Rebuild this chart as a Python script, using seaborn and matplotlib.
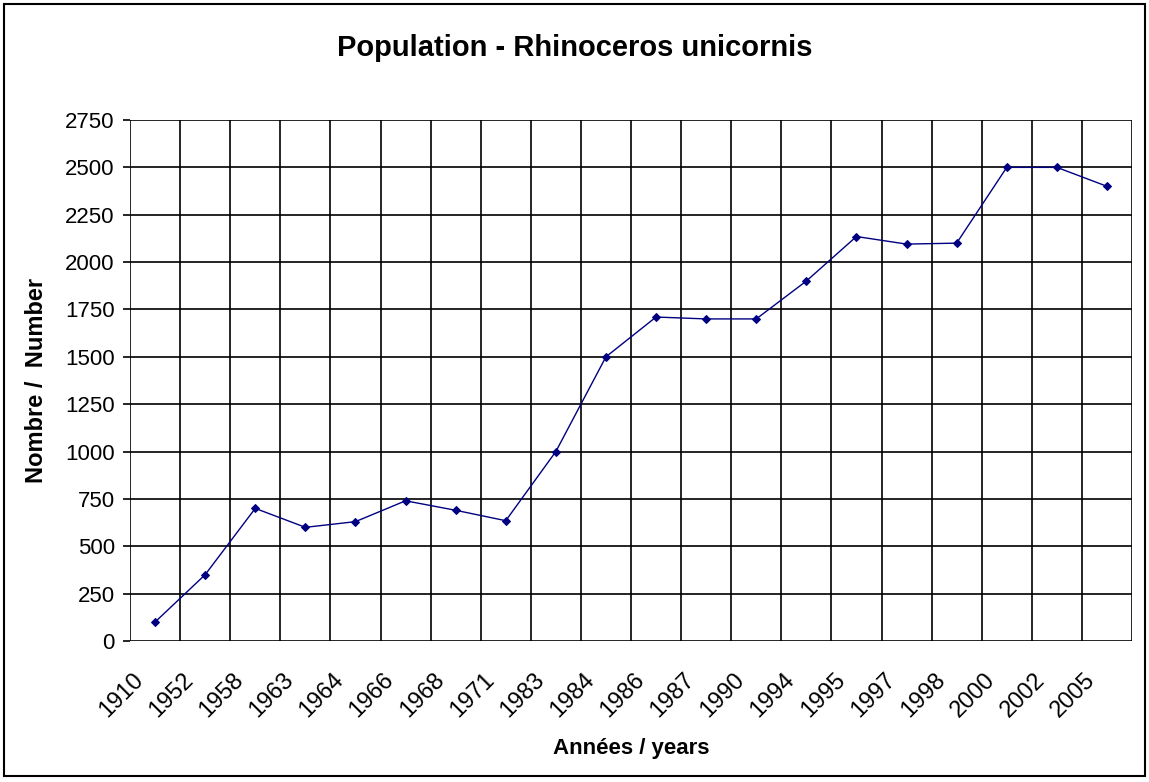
import matplotlib
matplotlib.use("Agg")
import matplotlib.pyplot as plt
import matplotlib.transforms as mtransforms
from matplotlib.patches import Rectangle
import seaborn as sns
import pandas as pd
import numpy as np

# data
years = ["1910", "1952", "1958", "1963", "1964", "1966", "1968", "1971", "1983", "1984",
         "1986", "1987", "1990", "1994", "1995", "1997", "1998", "2000", "2002", "2005"]
population = [100, 350, 700, 600, 630, 740, 690, 635, 1000, 1500,
              1710, 1700, 1700, 1900, 2135, 2095, 2100, 2500, 2500, 2400]
y_ticks = [0, 250, 500, 750, 1000, 1250, 1500, 1750, 2000, 2250, 2500, 2750]

df = pd.DataFrame({"year": years, "population": population})

sns.set_style("white")
plt.rcParams["font.family"] = ["Liberation Sans", "DejaVu Sans"]
for key in ["text.color", "axes.labelcolor", "xtick.color", "ytick.color"]:
    plt.rcParams[key] = "black"

fig = plt.figure(figsize=(11.49, 7.82), dpi=100)
ax = fig.add_axes([130 / 1149, 1 - 641 / 782, 1002 / 1149, 521 / 782])

sns.lineplot(data=df, x="year", y="population", ax=ax, color="#000080",
             linewidth=1, marker="D", markersize=4.5, markeredgecolor="#000080",
             sort=False, zorder=5)

n = len(years)
ax.set_xlim(-0.5, n - 0.5)
ax.set_ylim(0, 2750)
ax.set_yticks(y_ticks)
ax.set_xticks(range(n))
ax.set_xticklabels(years)
ax.set_xticks(np.arange(n + 1) - 0.5, minor=True)

ax.grid(False)
for v in y_ticks:
    ax.axhline(v, color="black", linewidth=1.2, zorder=1)
for b in np.arange(n + 1) - 0.5:
    ax.axvline(b, color="black", linewidth=1.2, zorder=1)

for s in ax.spines.values():
    s.set_visible(False)

ax.tick_params(axis="x", which="major", length=0, pad=20, labelsize=17)
ax.tick_params(axis="x", which="minor", length=5, width=1.2, color="black", direction="out")
ax.tick_params(axis="y", which="major", length=5, width=1.2, color="black",
               direction="out", pad=6, labelsize=16, left=True)
offset = mtransforms.ScaledTranslation(-7 / 100, 0, fig.dpi_scale_trans)
for lab in ax.get_xticklabels():
    lab.set_rotation(45)
    lab.set_ha("right")
    lab.set_va("top")
    lab.set_transform(lab.get_transform() + offset)

ax.set_xlabel("Années / years", fontsize=16, fontweight="bold", labelpad=12)
ax.set_ylabel("Nombre /  Number", fontsize=17, fontweight="bold", labelpad=12)
fig.text(575 / 1149, 1 - 48 / 782, "Population - Rhinoceros unicornis",
         ha="center", va="center", fontsize=21, fontweight="bold")

fig.patches.append(Rectangle((4 / 1149, 6 / 782), 1141 / 1149, 772 / 782,
                             transform=fig.transFigure, fill=False,
                             edgecolor="black", linewidth=1.5))

fig.savefig("out.png", dpi=100)
